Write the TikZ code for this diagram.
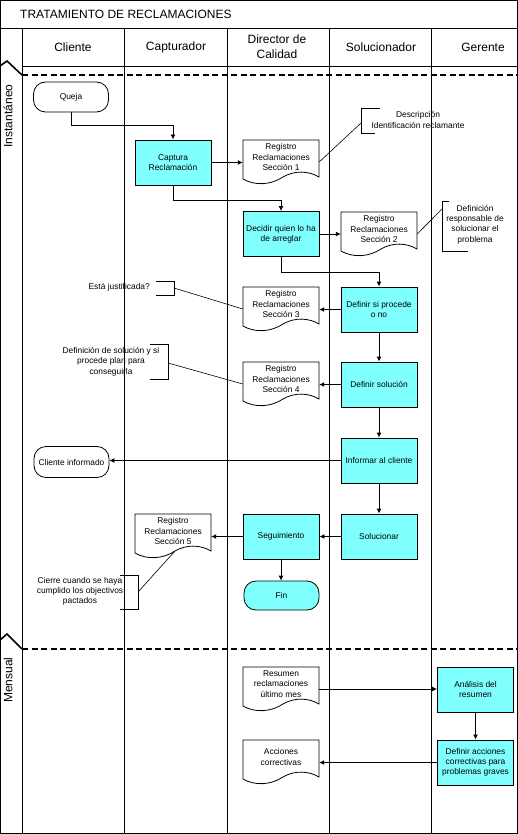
\documentclass[tikz,border=0pt]{standalone}
\usepackage{fontspec}
\setmainfont{Liberation Sans}
\usetikzlibrary{arrows.meta,calc}
\definecolor{procfill}{HTML}{80FFFF}
\tikzset{
 every node/.style={inner sep=0pt, font=\fontsize{8.4}{10.3}\selectfont, align=center},
 procbox/.style={draw, fill=procfill, minimum width=76pt, minimum height=45pt, line width=0.9pt},
 termbox/.style={draw, rounded corners=12pt, minimum width=75pt, minimum height=30pt, line width=0.8pt},
 docbox/.style={minimum width=76pt, minimum height=44pt},
 docline/.style={draw, fill=white, line width=0.8pt},
 arr/.style={-{Latex[length=5pt,width=5pt]}, line width=0.9pt},
 noteline/.style={line width=0.6pt},
 bracketline/.style={line width=0.9pt},
 lane/.style={line width=0.9pt},
 phase/.style={dash pattern=on 6pt off 3.5pt, line width=1.6pt},
 zig/.style={line width=1.6pt},
 hdr/.style={font=\fontsize{12}{15}\selectfont},
}
\newcommand{\docshape}[4]{%
 \begin{scope}[shift={(#2,#3)}]
  \draw[docline] (0,0) -- (76,0) -- (76,37) .. controls (66,31) and (52,30) .. (40,37) .. controls (28,45) and (12,46) .. (0,39) -- cycle;
  \node[docbox] (#1) at (38,22) {};
  \coordinate (#1-w) at (40,37);
  \node (#1-t) at (38,17) {#4};
 \end{scope}}
\begin{document}
\begin{tikzpicture}[x=1pt,y=-1pt]
\useasboundingbox (0,0) rectangle (518,834);
% frame and lanes
\draw[lane] (0.5,0.5) rectangle (517,833);
\draw[lane] (0.5,28) -- (517,28);
\draw[lane] (22,66) -- (517,66);
\foreach \x in {22,124,227,329,431} \draw[lane] (\x,28) -- (\x,833);
\node[hdr, anchor=west] (title) at (20,14) {TRATAMIENTO DE RECLAMACIONES};
\node[hdr] (hcli) at (73,47) {Cliente};
\node[hdr] (hcap) at (176,47) {Capturador};
\node[hdr] (hdir) at (277,47) {Director de\\Calidad};
\node[hdr] (hsol) at (381,47) {Solucionador};
\node[hdr] (hger) at (483,47) {Gerente};
% phases
\draw[zig] (0,66) -- (7,61) -- (22,75);
\draw[phase] (22,75) -- (517,75);
\node[hdr, rotate=90] (pinst) at (8,116) {Instantáneo};
\draw[zig] (0,640) -- (7,634) -- (22,649);
\draw[phase] (22,649) -- (517,649);
\node[hdr, rotate=90] (pmen) at (8,680) {Mensual};
% nodes
\node[termbox] (queja) at (71,97) {Queja};
\node[procbox] (capt) at (173,162.5) {Captura\\Reclamación};
\docshape{sec1}{243}{140}{Registro\\Reclamaciones\\Sección 1}
\node[procbox] (decidir) at (281,234) {Decidir quien lo ha\\de arreglar};
\docshape{sec2}{341}{212}{Registro\\Reclamaciones\\Sección 2}
\node[procbox] (procede) at (379,309.5) {Definir si procede\\o no};
\docshape{sec3}{243}{287}{Registro\\Reclamaciones\\Sección 3}
\node[procbox] (solucion) at (379,384.5) {Definir solución};
\docshape{sec4}{243}{362}{Registro\\Reclamaciones\\Sección 4}
\node[procbox] (informar) at (379,460.5) {Informar al cliente};
\node[termbox, minimum height=31pt] (clinf) at (71.5,462) {Cliente informado};
\node[procbox] (solucionar) at (379,536.5) {Solucionar};
\node[procbox] (seguim) at (281,536.5) {Seguimiento};
\docshape{sec5}{135}{514}{Registro\\Reclamaciones\\Sección 5}
\node[termbox, fill=procfill, minimum height=29pt] (fin) at (281.5,595.5) {Fin};
\docshape{resumen}{243}{667}{Resumen\\reclamaciones\\último mes}
\node[procbox] (analisis) at (475.5,689.5) {Análisis del\\resumen};
\node[procbox] (defacc) at (475.5,762.5) {Definir acciones\\correctivas para\\problemas graves};
\docshape{acciones}{243}{740}{Acciones\\correctivas}
% connectors
\draw[arr] (queja.south) -- ++(0,13) -| (capt.north);
\draw[arr] (capt.east) -- (capt.east -| sec1.west);
\draw[arr] (capt.south) -- ++(0,15) -| (decidir.north);
\draw[arr] (decidir.east) -- (decidir.east -| sec2.west);
\draw[arr] (decidir.south) -- ++(0,15) -| (procede.north);
\draw[arr] (procede.west) -- (procede.west -| sec3.east);
\draw[arr] (procede.south) -- (solucion.north);
\draw[arr] (solucion.west) -- (solucion.west -| sec4.east);
\draw[arr] (solucion.south) -- (informar.north);
\draw[arr] (informar.west) -- (informar.west -| clinf.east);
\draw[arr] (informar.south) -- (solucionar.north);
\draw[arr] (solucionar.west) -- (seguim.east);
\draw[arr] (seguim.west) -- (seguim.west -| sec5.east);
\draw[arr] (seguim.south) -- (seguim.south |- fin.north);
\draw[arr] (resumen.east) -- (resumen.east -| analisis.west);
\draw[arr] (analisis.south) -- (defacc.north);
\draw[arr] (defacc.west) -- (defacc.west -| acciones.east);
% annotations
\draw[bracketline] (380,108) -- (361,108) -- (361,133) -- (375,133);
\coordinate (n1) at (361,123);
\node (desc) at (418,120) {Descripción\\Identificación reclamante};
\draw[noteline] (n1) -- (sec1.east);
\draw[bracketline] (449,201) -- (442,201) -- (442,251) -- (468,251);
\coordinate (n2) at (442,209);
\node (respon) at (475,224.5) {Definición\\responsable de\\solucionar el\\problema};
\draw[noteline] (sec2.east) -- (n2);
\draw[bracketline] (156,281) -- (174,281) -- (174,295) -- (156,295);
\coordinate (n3) at (174,288);
\node[anchor=east] (justif) at (150,287) {Está justificada?};
\draw[noteline] (n3) -- (sec3.west);
\draw[bracketline] (150,344) -- (168,344) -- (168,379) -- (150,379);
\coordinate (n4) at (168,363);
\node (defsol) at (111,361.5) {Definición de solución y si\\procede plan para\\conseguirla};
\draw[noteline] (n4) -- (sec4.west);
\draw[bracketline] (120,575) -- (138,575) -- (138,609) -- (120,609);
\coordinate (n5) at (138,592);
\node (cierre) at (80,591.5) {Cierre cuando se haya\\cumplido los objectivos\\pactados};
\draw[noteline] (n5) -- (sec5-w);
\end{tikzpicture}
\end{document}
